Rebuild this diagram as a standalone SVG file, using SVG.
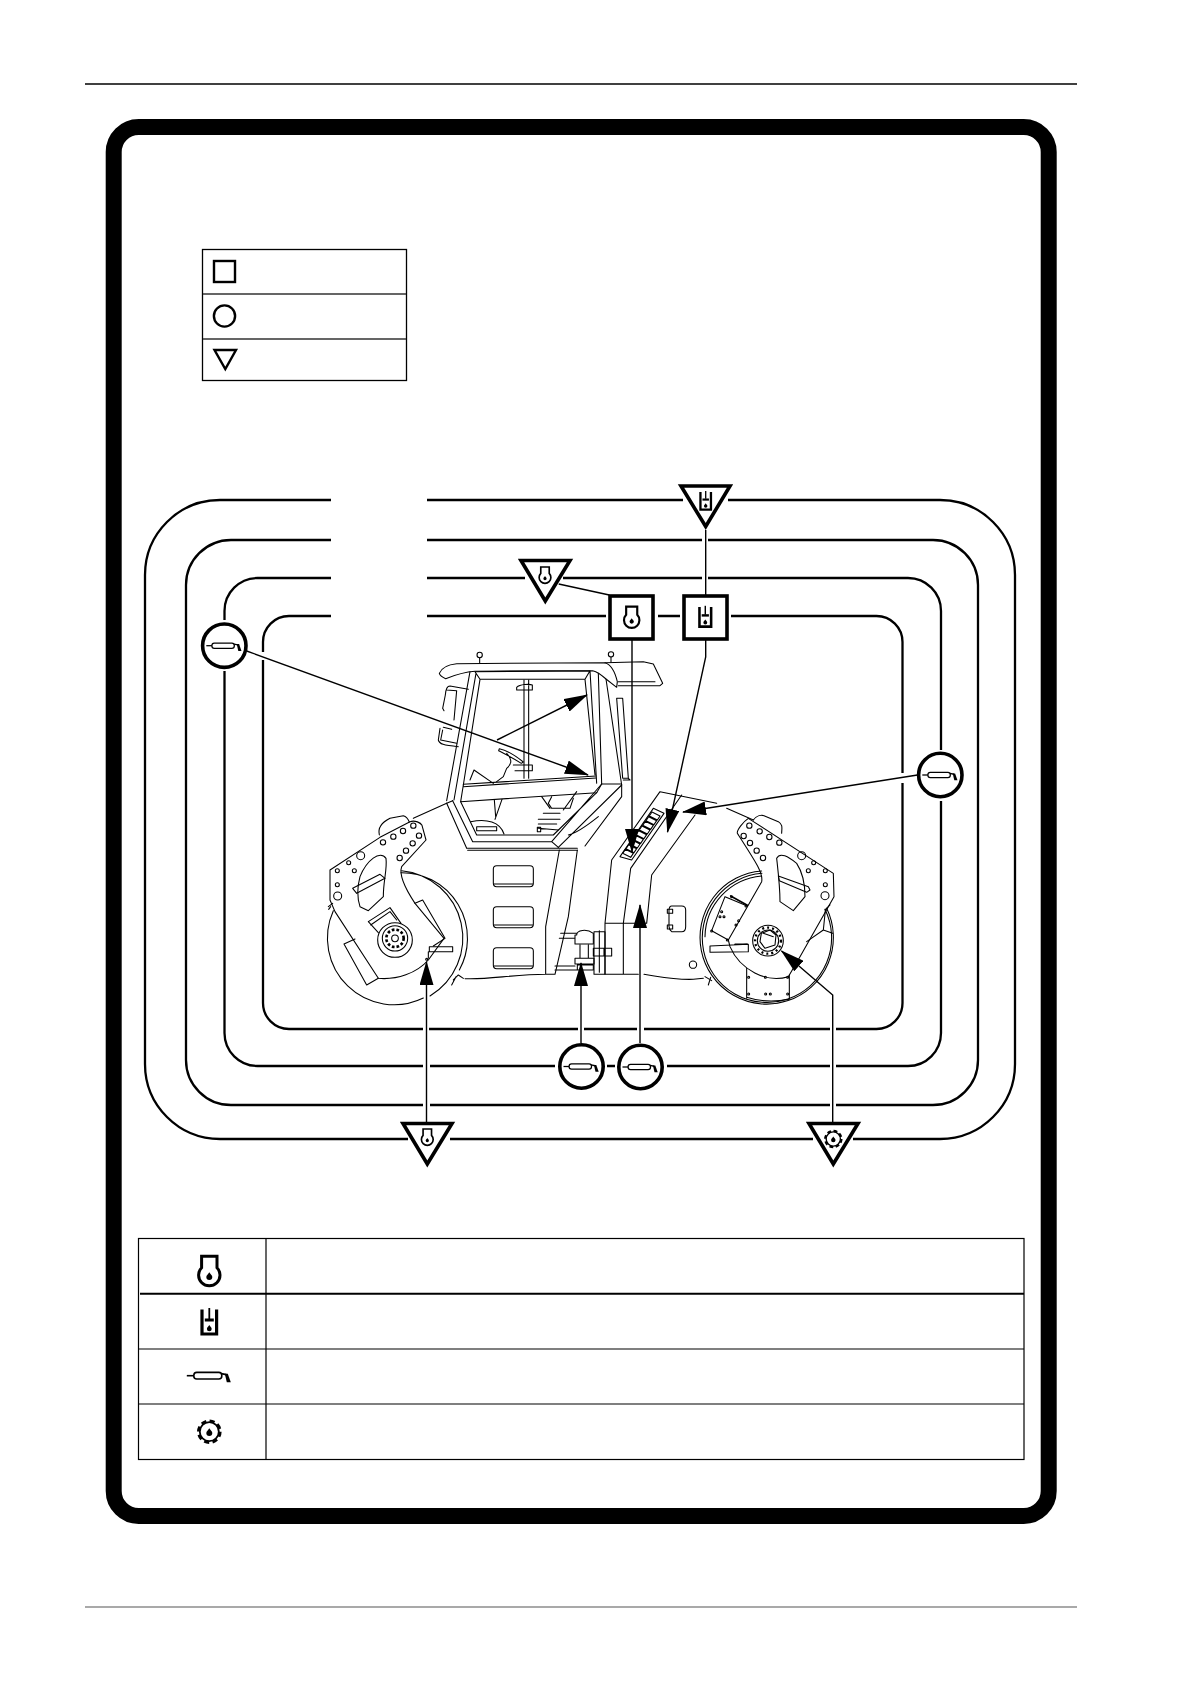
<svg xmlns="http://www.w3.org/2000/svg" width="1191" height="1684" viewBox="0 0 1191 1684">
<style>
.rail{fill:none;stroke:#000;stroke-width:2.3}
.c{fill:none;stroke:#000;stroke-width:1.4}
.ca{fill:none;stroke:#000;stroke-width:1.4;marker-end:url(#ah)}
.node{fill:#fff;stroke:#000;stroke-width:3.6;stroke-linejoin:miter}
.m{fill:none;stroke:#000;stroke-width:3.2;stroke-linejoin:round;stroke-linecap:round}
.t{fill:none;stroke:#000;stroke-width:1.6}
</style>
<defs>
<marker id="ah" markerUnits="userSpaceOnUse" markerWidth="24" markerHeight="14" viewBox="0 0 24 14" refX="23" refY="7" orient="auto"><path d="M0 0L24 7L0 14Z" fill="#000"/></marker>
<g id="drop"><path d="M0 -3.4C1 -1.4 3 -.4 3 1.4A3 3 0 0 1 -3 1.4C-3 -.4 -1 -1.4 0 -3.4Z" fill="#000"/></g>
<g id="i-engine"><path d="M-7.700 -14.500H7.700V-3A10.700 10.700 0 1 1 -7.700 -3Z" fill="none" stroke="#000" stroke-width="3"/><use href="#drop" y="5"/></g>
<g id="i-hyd"><path d="M-7.300 -12.500V12H7.300V-12.500" fill="none" stroke="#000" stroke-width="3.200"/><path d="M0 -14V-3" stroke="#000" stroke-width="1.800"/><rect x="-4.500" y="-3.500" width="9" height="3" fill="#000"/><use href="#drop" y="6" transform="translate(0 1) scale(.8)"/></g>
<g id="i-grease"><path d="M-22.500 0H-15.500" stroke="#000" stroke-width="1.600"/><rect x="-15.500" y="-3.300" width="28" height="6.600" rx="3" fill="none" stroke="#000" stroke-width="1.600"/><path d="M12 -2L17 -1" stroke="#000" stroke-width="1.800"/><path d="M15.500 -2L18.500 -2L21.500 6.500L17.500 6.500Z" fill="#000"/></g>
<g id="i-gear"><circle r="9.500" fill="none" stroke="#000" stroke-width="1.800"/><circle r="10.800" fill="none" stroke="#000" stroke-width="3" stroke-dasharray="5.100 3.380"/><use href="#drop" y="0"/></g>
</defs>

<g id="page-rules">
<path d="M85 84H1077" stroke="#000" stroke-width="1.6" fill="none"/>
<path d="M85 1607H1077" stroke="#555" stroke-width="1.1" fill="none"/>
</g>
<rect id="frame" x="113.700" y="127" width="935" height="1389" rx="25" fill="none" stroke="#000" stroke-width="16"/>

<g id="legend">
<rect x="202.500" y="249.500" width="204" height="131" fill="none" stroke="#000" stroke-width="1.300"/>
<path d="M203 294H406M203 339H406" stroke="#333" stroke-width="1.400" fill="none"/>
<rect x="214" y="261" width="21" height="21" fill="none" stroke="#000" stroke-width="2.400"/>
<circle cx="224.500" cy="316" r="10.600" fill="none" stroke="#000" stroke-width="2.400"/>
<path d="M214.500 350H236L225.300 369Z" fill="none" stroke="#000" stroke-width="2.400"/>
</g>

<g id="rails">
<path class="rail" d="M331 500H220A75 75 0 0 0 145 575V1064A75 75 0 0 0 220 1139H408M450 1139H813M853 1139H940A75 75 0 0 0 1015 1064V575A75 75 0 0 0 940 500H728M683 500H427"/>
<path class="rail" d="M331 540H231A45 45 0 0 0 186 585V1060A45 45 0 0 0 231 1105H423M430 1105H830M836 1105H933A45 45 0 0 0 978 1060V585A45 45 0 0 0 933 540H708M702 540H427"/>
<path class="rail" d="M331 578H257.500A33 33 0 0 0 224.500 611V620M224.500 671V1033A33 33 0 0 0 257.500 1066H423M430 1066H555M607 1066H615M667 1066H830M836 1066H908A33 33 0 0 0 941 1033V801M941 750V611A33 33 0 0 0 908 578H708M702 578H563M525 578H427"/>
<path class="rail" d="M331 616H289A26 26 0 0 0 263 642V652M263 660V1003A26 26 0 0 0 289 1029H423M429 1029H578M584 1029H637M644 1029H830M836 1029H876.500A26 26 0 0 0 902.500 1003V783M902.500 773V642A26 26 0 0 0 876.500 616H731M680 616H658M606 616H427"/>
</g>

<g id="machine" transform="translate(300 640) scale(.33333)">
<path class="m" d="M418 100C425 82 440 74 470 71L915 68C935 74 945 95 952 125L950 142L918 117C905 105 890 95 878 92L525 94C500 96 465 105 437 116C428 112 420 108 418 100Z"/>
<path class="m" d="M915 68L1030 65L1060 72L1088 130L1080 137L955 137M955 125H1065"/>
<circle class="m" cx="539" cy="45" r="8"/><circle class="m" cx="933" cy="43" r="8"/><path class="m" d="M539 53V68M933 51V66"/>
<path class="m" d="M505 148L450 138C440 138 437 150 436 165L428 205M440 150L470 152L462 240M428 205L432 212M420 265L415 300C418 312 430 316 475 320M428 270L422 300L470 310M430 262L455 268"/>
<path class="m" d="M510 95L440 482M528 100L462 480M525 95L870 92L855 118L540 118ZM540 118L490 435M855 118L885 405M870 92L890 430M895 100L905 432M918 117L965 435M965 435V470L855 618"/>
<path class="m" d="M490 433L888 408M490 440L888 414M482 485L890 458M482 485L490 435M905 432L890 458M905 432H965"/>
<path class="m" d="M440 490L500 625M458 482L518 605M482 485L530 585M518 605H755L905 432M530 585H760L890 458M500 625H832M503 631H832M775 622L965 435M755 605L775 622M805 585C830 580 870 550 895 530"/>
<path class="m" d="M440 490L458 482"/>
<path class="m" d="M672 120V415M686 120V415M650 142C660 132 690 132 697 135V150H650Z"/>
<path class="m" d="M598 326C620 330 650 350 670 366L664 370C640 355 615 342 596 332ZM620 340C635 355 638 370 620 385L610 410L590 425M640 375H697V392H645"/>
<path class="m" d="M510 420L522 390L580 430M583 480L587 530M606 478L585 538M512 545C560 535 600 545 612 582M530 560H590V572H530ZM530 560V572"/>
<path class="m" d="M755 470L745 490L755 505H810L820 475M725 470L750 505M715 538H780M715 552H770M730 520H780M715 565L775 570M712 562H722V575H712ZM830 455L790 510"/>
<path class="m" d="M950 175H968L985 415H968ZM985 415L990 420H970"/>
<path class="m" d="M340 535L440 490M778 630L737 860V1003H765L805 830L832 630M495 1016C560 1020 640 1003 737 1003"/>
<rect class="m" x="580" y="677" width="120" height="63" rx="10"/><rect class="m" x="580" y="800" width="120" height="63" rx="10"/><rect class="m" x="580" y="923" width="120" height="63" rx="10"/>
<path class="m" d="M582 732H698M582 855H698M582 978H698"/>
<path class="m" d="M782 880H830M778 895H825M765 978H825M765 990H830M830 885C830 870 860 865 880 880V912H825V885ZM840 915V955M865 915V955M825 955H882V972H825ZM832 975H880V990H832Z"/>
<path class="m" d="M882 875H915V1003H882ZM898 872V997M880 925H935V948H880ZM912 925V948"/>
<path class="m" d="M305 692A203 203 0 0 1 390 1068M303 698A197 197 0 0 1 478 990M370 1074A200 200 0 0 1 100 812"/>
<path class="m" d="M90 690L240 592L330 545C345 540 362 548 366 556L378 600L305 680C298 700 305 730 345 790L432 895L385 960C350 1000 290 1020 235 1015L105 815L90 780Z"/>
<path class="m" d="M238 585C232 560 250 545 270 535L310 527C322 530 325 538 328 546"/>
<circle class="m" cx="340" cy="557" r="8"/><circle class="m" cx="357" cy="587" r="8"/><circle class="m" cx="338" cy="610" r="8"/><circle class="m" cx="318" cy="632" r="8"/><circle class="m" cx="299" cy="654" r="8"/><circle class="m" cx="309" cy="573" r="8"/><circle class="m" cx="280" cy="590" r="8"/><circle class="m" cx="249" cy="607" r="8"/><circle class="m" cx="182" cy="647" r="12"/><circle class="m" cx="146" cy="668" r="6"/><circle class="m" cx="163" cy="692" r="6"/><circle class="m" cx="112" cy="692" r="6"/><circle class="m" cx="112" cy="734" r="6"/><circle class="m" cx="113" cy="768" r="12"/>
<path class="m" d="M180 710C200 660 240 630 258 655C262 690 250 720 250 770L205 812L180 800C170 770 172 740 180 710Z"/>
<path class="m" d="M158 745L240 703L255 715L170 760Z"/>
<circle class="m" cx="285" cy="900" r="52"/><circle class="m" cx="285" cy="895" r="38"/>
<circle cx="285" cy="895" r="26" fill="none" stroke="#000" stroke-width="8" stroke-dasharray="8 6"/><circle class="m" cx="285" cy="895" r="10"/>
<path class="m" d="M205 845L270 803L303 850M212 855L270 815L290 840M235 878L205 845"/>
<path class="m" d="M345 790L368 780L435 895L400 918M132 912L165 897M132 912L200 1035L235 1015"/>
<path class="m" d="M388 920H458V935H388ZM385 935V955"/><circle class="m" cx="380" cy="958" r="3"/>
<path class="m" d="M85 800L98 790M92 800L86 808M460 1020L475 1005L490 1015M455 1035L468 1010"/>
<g transform="translate(720 0)">
<path class="m" d="M195 850L215 660L360 455L530 490M560 505L640 540M250 850L272 685L425 465M335 705L465 525M320 850L335 705M195 850H320M195 850V1003H295M250 850V1003M312 1003C360 1010 400 1020 460 1018L490 1015"/>
<path class="m" d="M240 650L340 505L372 520L275 660Z"/>
<path class="m" d="M248 640L272 652L280 640L256 628ZM258 626L282 638L290 626L266 614ZM268 612L292 624L300 612L276 600ZM278 598L302 610L310 598L286 586ZM288 584L312 596L320 584L296 572ZM298 570L322 582L330 570L306 558ZM308 556L332 568L340 556L316 544ZM318 542L342 554L350 542L326 530ZM328 528L352 540L360 528L336 516Z"/>
<path class="m" d="M395 798H425Q437 798 437 810V860Q437 875 425 875H395Q388 870 387 860V810Q388 798 395 798Z"/>
<rect class="m" x="382" y="808" width="16" height="12"/><rect class="m" x="382" y="855" width="16" height="12"/>
<circle class="m" cx="459" cy="974" r="11"/>
<path class="m" d="M665 693A200 200 0 1 0 860 805M666 700A194 194 0 1 0 855 808M665 708A186 186 0 0 0 495 890"/>
<path class="m" d="M592 580C590 570 610 545 625 535L880 700L882 770L780 950L745 1010C680 1030 600 990 570 920L565 900L665 725C670 700 650 670 592 580Z"/>
<path class="m" d="M640 540C650 525 665 525 672 527L715 545C730 555 725 565 725 580"/>
<circle class="m" cx="628" cy="557" r="8"/><circle class="m" cx="659" cy="574" r="8"/><circle class="m" cx="688" cy="591" r="8"/><circle class="m" cx="718" cy="608" r="8"/><circle class="m" cx="611" cy="588" r="8"/><circle class="m" cx="630" cy="609" r="8"/><circle class="m" cx="650" cy="632" r="8"/><circle class="m" cx="669" cy="654" r="8"/><circle class="m" cx="785" cy="647" r="12"/><circle class="m" cx="821" cy="668" r="6"/><circle class="m" cx="805" cy="692" r="6"/><circle class="m" cx="856" cy="692" r="6"/><circle class="m" cx="856" cy="734" r="6"/><circle class="m" cx="855" cy="767" r="12"/>
<path class="m" d="M710 655C720 635 745 650 770 670C790 700 795 730 795 770L760 812L720 785C720 740 715 700 710 655Z"/>
<path class="m" d="M715 708L805 740L810 750L800 757L718 722Z"/>
<circle class="m" cx="684" cy="902" r="46"/><circle class="m" cx="684" cy="902" r="32"/>
<circle cx="684" cy="902" r="39" fill="none" stroke="#000" stroke-width="7" stroke-dasharray="6 9"/>
<path class="m" d="M664 880L690 870L708 885L705 915L675 925L660 905ZM670 880L700 890"/>
<path class="m" d="M515 872L555 770L620 797M515 872L565 900"/>
<path class="m" style="stroke-width:5" d="M572 768L622 796"/>
<path class="m" d="M510 918L625 913V935L510 937ZM583 915L585 912H622"/>
<path class="m" d="M620 985V1075M748 1005V1078M620 1072C660 1085 710 1085 748 1078"/>
<path class="m" d="M800 905L850 870L856 812M850 870L878 880M855 810L870 795"/>
<path class="m" d="M495 1010L515 1022M505 1035L512 1012"/>
<circle class="m" cx="545" cy="815" r="3"/><circle class="m" cx="552" cy="830" r="3"/><circle class="m" cx="540" cy="830" r="3"/><circle class="m" cx="575" cy="770" r="3"/><circle class="m" cx="618" cy="798" r="3"/><circle class="m" cx="588" cy="855" r="3"/><circle class="m" cx="596" cy="842" r="3"/><circle class="m" cx="515" cy="873" r="3"/><circle class="m" cx="562" cy="900" r="3"/>
<circle class="m" cx="626" cy="1012" r="3"/><circle class="m" cx="676" cy="1012" r="3"/><circle class="m" cx="743" cy="1012" r="3"/><circle class="m" cx="626" cy="1062" r="3"/><circle class="m" cx="677" cy="1062" r="3"/><circle class="m" cx="691" cy="1062" r="3"/><circle class="m" cx="743" cy="1062" r="3"/>
</g>
</g>

<g id="connectors">
<path class="ca" d="M246.700 651L588 775"/>
<path class="ca" d="M497 740L587 695"/>
<path class="ca" d="M632 639V852"/>
<path class="c" d="M705.700 530V595"/>
<path class="c" d="M558.700 584L609.300 595"/>
<path class="ca" d="M705.700 639V657L667.500 832"/>
<path class="ca" d="M917.500 775L683 812"/>
<path class="ca" d="M581 1043V963"/>
<path class="ca" d="M640 1043V905"/>
<path class="ca" d="M426.500 1123V962"/>
<path class="ca" d="M832.700 1123V995L781.500 951"/>
</g>

<g id="node-circle-cab"><circle class="node" cx="224.300" cy="645.700" r="21.700"/><use href="#i-grease" transform="translate(224.300 645.700) scale(.8)"/></g>
<g id="node-circle-hood"><circle class="node" cx="940.300" cy="775" r="21.700"/><use href="#i-grease" transform="translate(940.300 775) scale(.8)"/></g>
<g id="node-circle-joint1"><circle class="node" cx="581.500" cy="1066.500" r="21.700"/><use href="#i-grease" transform="translate(581.500 1066.500) scale(.8)"/></g>
<g id="node-circle-joint2"><circle class="node" cx="640.500" cy="1067" r="21.700"/><use href="#i-grease" transform="translate(640.500 1067) scale(.8)"/></g>
<g id="node-square-engine"><rect class="node" x="610" y="596" width="43" height="43"/><use href="#i-engine" transform="translate(631.700 617) scale(.72)"/></g>
<g id="node-square-hyd"><rect class="node" x="684" y="596" width="43" height="43"/><use href="#i-hyd" transform="translate(705.300 617) scale(.8)"/></g>
<g id="node-tri-hyd"><path class="node" d="M681 486H730L705.700 526.500Z"/><use href="#i-hyd" transform="translate(705.700 501) scale(.72)"/></g>
<g id="node-tri-engine-top"><path class="node" d="M521 560.500H570L545.300 601Z"/><use href="#i-engine" transform="translate(545 575) scale(.55)"/></g>
<g id="node-tri-engine-drum"><path class="node" d="M403 1123.500H452L427.300 1164Z"/><use href="#i-engine" transform="translate(427.300 1137) scale(.55)"/></g>
<g id="node-tri-gear"><path class="node" d="M809 1123.500H858L833.300 1164Z"/><use href="#i-gear" transform="translate(833.300 1139) scale(.75)"/></g>

<g id="table">
<rect x="138.500" y="1238.500" width="885.500" height="221" fill="none" stroke="#000" stroke-width="1.200"/>
<path d="M266 1238V1459" stroke="#000" stroke-width="1.200"/>
<path d="M140 1293.700H1024" stroke="#000" stroke-width="2"/>
<path d="M139 1349H1024M139 1404H1024" stroke="#000" stroke-width="1.200"/>
<use href="#i-engine" transform="translate(209.300 1270.700)"/>
<use href="#i-hyd" transform="translate(209.300 1322)"/>
<use href="#i-grease" transform="translate(209.300 1375.700)"/>
<use href="#i-gear" transform="translate(209.300 1431.700)"/>
</g>
</svg>
